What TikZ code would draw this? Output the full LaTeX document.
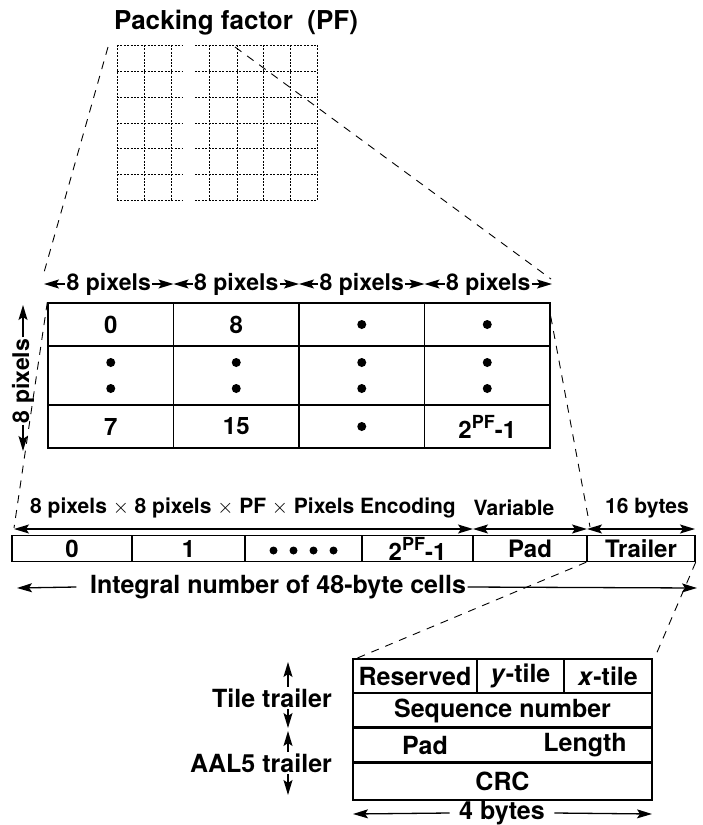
\documentclass[tikz,border=0pt]{standalone}
\usepackage{fontspec}
\setmainfont{TeX Gyre Heros}
\usetikzlibrary{arrows.meta}
\tikzset{
  fs/.style={font=\bfseries\fontsize{#1}{#1}\selectfont},
  lab/.style={inner sep=1.5pt, fs=#1},
  cellbox/.style 2 args={draw, line width=1.4pt, minimum width=#1, minimum height=#2, inner sep=0pt, fs=24},
  proj/.style={line width=0.9pt, dash pattern=on 8pt off 7pt},
  dotgrid/.style={line width=1pt, dash pattern=on 2pt off 1.4pt},
  arr/.style={line width=1.3pt, -{Stealth[length=15pt,width=9pt,inset=3pt]}},
  bul/.style={circle, fill, inner sep=0pt, minimum size=#1},
}
\newcommand{\pfm}{2\raisebox{0.42em}{\fontsize{18}{18}\selectfont PF}-1}
\begin{document}
\begin{tikzpicture}[x=1pt,y=-1pt]
\fill[white] (0,0) rectangle (703,825);
\useasboundingbox (0,0) rectangle (703,825);

% ---------- title and top grid ----------
\node[lab=26] (title) at (236,23) {Packing factor\ \ (PF)};
\foreach \yy in {45,71,97,123,148,174,200} {
  \draw[dotgrid] (117,\yy) -- (183,\yy);
  \draw[dotgrid] (195,\yy) -- (317,\yy);
}
\foreach \xx in {117,144,171,209,237,263,290,317}
  \draw[dotgrid] (\xx,45) -- (\xx,200);
\coordinate (gTL) at (108,47);
\coordinate (gTR) at (235,47);

% ---------- 8 pixels row ----------
\coordinate (h0) at (44,284);
\coordinate (h1) at (173.5,284);
\coordinate (h2) at (299,284);
\coordinate (h3) at (424.5,284);
\coordinate (h4) at (552,284);
\node[lab=23] (p1) at (108.75,284) {8 pixels};
\node[lab=23] (p2) at (236.25,284) {8 pixels};
\node[lab=23] (p3) at (361.75,284) {8 pixels};
\node[lab=23] (p4) at (488.25,284) {8 pixels};
\draw[arr] (p1.west) -- (h0); \draw[arr] (p1.east) -- (h1);
\draw[arr] (p2.west) -- (h1); \draw[arr] (p2.east) -- (h2);
\draw[arr] (p3.west) -- (h2); \draw[arr] (p3.east) -- (h3);
\draw[arr] (p4.west) -- (h3); \draw[arr] (p4.east) -- (h4);
\draw[proj] (gTL) -- (43,276);
\draw[proj] (gTR) -- (551,279);

% ---------- pixel table ----------
\node[cellbox={125.5pt}{43pt}] (t11) at (110.75,324.5) {0};
\node[cellbox={125.5pt}{43pt}] (t12) at (236.25,324.5) {8};
\node[cellbox={125.5pt}{43pt}] (t13) at (361.75,324.5) {};
\node[cellbox={125.5pt}{43pt}] (t14) at (487.25,324.5) {};
\node[cellbox={125.5pt}{59pt}] (t21) at (110.75,375.5) {};
\node[cellbox={125.5pt}{59pt}] (t22) at (236.25,375.5) {};
\node[cellbox={125.5pt}{59pt}] (t23) at (361.75,375.5) {};
\node[cellbox={125.5pt}{59pt}] (t24) at (487.25,375.5) {};
\node[cellbox={125.5pt}{43pt}] (t31) at (110.75,426.5) {7};
\node[cellbox={125.5pt}{43pt}] (t32) at (236.25,426.5) {15};
\node[cellbox={125.5pt}{43pt}] (t33) at (361.75,426.5) {};
\node[cellbox={125.5pt}{43pt}] (t34) at (487.25,426.5) {\pfm};
\node[bul=9pt] at (t13) {};
\node[bul=9pt] at (t14) {};
\node[bul=9pt] at (t33) {};
\foreach \c in {t21,t22,t23,t24} {
  \node[bul=9pt] at ([yshift=13pt]\c.center) {};
  \node[bul=9pt] at ([yshift=-13pt]\c.center) {};
}
% vertical 8 pixels
\coordinate (vt) at (23,305);
\coordinate (vb) at (23,451);
\node[lab=23, rotate=90] (vp) at (23,381) {8 pixels};
\draw[arr] (vp.east) -- (vt);
\draw[arr] (vp.west) -- (vb);

\draw[proj] (t11.north west) -- (14,528);
\draw[proj] ([yshift=-14pt]t14.north east) -- (590,527);

% ---------- bar ----------
\node[lab=21] (encl) at (243,508) {8 pixels $\times$ 8 pixels $\times$ PF $\times$ Pixels Encoding};
\node[lab=21] (varl) at (514,508) {Variable};
\node[lab=21] (bytl) at (647,508) {16 bytes};
\coordinate (a0) at (14,529);
\coordinate (a1) at (473,529);
\coordinate (a2) at (587,529);
\coordinate (a3) at (695,529);
\coordinate (am1) at (240,529);
\coordinate (am2) at (530,529);
\coordinate (am3) at (641,529);
\draw[arr] (am1) -- (a0); \draw[arr] (am1) -- (a1);
\draw[arr] (am2) -- (a1); \draw[arr] (am2) -- (a2);
\draw[arr] (am3) -- (a2); \draw[arr] (am3) -- (a3);

\node[cellbox={120pt}{26pt}] (b1) at (72,548.5) {0};
\node[cellbox={113pt}{26pt}] (b2) at (188.5,548.5) {1};
\node[cellbox={117pt}{26pt}] (b3) at (303.5,548.5) {};
\node[cellbox={111pt}{26pt}] (b4) at (417.5,548.5) {\pfm};
\node[cellbox={114pt}{26pt}] (b5) at (530,548.5) {Pad};
\node[cellbox={108pt}{26pt}] (b6) at (641,548.5) {Trailer};
\foreach \xx in {-30,-10,10,30}
  \node[bul=8pt] at ([xshift=\xx pt, yshift=-2pt]b3.center) {};

\node[lab=25] (intg) at (278,587) {Integral number of 48-byte cells};
\coordinate (i0) at (17,588);
\coordinate (i1) at (697,588);
\draw[arr] ([xshift=-12pt]intg.west) -- (i0);
\draw[arr] (intg.east) -- (i1);

\draw[proj] (b6.south west) -- (355,659);
\draw[proj] (b6.south east) -- (655,657);

% ---------- trailer detail ----------
\node[cellbox={124pt}{34pt}, fs=25] (d11) at (415,676) {Reserved};
\node[cellbox={87pt}{34pt}, fs=25] (d12) at (520.5,676) {\textit{y}-tile};
\node[cellbox={88pt}{34pt}, fs=25] (d13) at (608,676) {\textit{x}-tile};
\node[cellbox={299pt}{35pt}, fs=25] (d2) at (502.5,710.5) {Sequence number};
\node[cellbox={299pt}{35pt}] (d3) at (502.5,745.5) {};
\node[cellbox={299pt}{37pt}, fs=25] (d4) at (502.5,781.5) {CRC};
\draw[line width=2.4pt] (d3.north west) -- (d3.north east);
\draw[line width=2pt] (d4.north west) -- (d4.north east);
\node[lab=25] (padl) at (425,745.5) {Pad};
\node[lab=25] (lenl) at (585,745.5) {Length};

\node[lab=25] (tt) at (272,698) {Tile trailer};
\node[lab=25] (aa) at (261,763) {AAL5 trailer};
\coordinate (ta) at (288,662);
\coordinate (tb) at (288,728);
\coordinate (ua) at (288,731);
\coordinate (ub) at (288,795);
\draw[arr] (tt.north -| ta) -- (ta);
\draw[arr] (tt.south -| ta) -- (tb);
\draw[arr] (aa.north -| ua) -- (ua);
\draw[arr] (aa.south -| ua) -- (ub);

\node[lab=25] (fb) at (502,813) {4 bytes};
\coordinate (fl) at (353,814);
\coordinate (fr) at (652,814);
\draw[arr] ([xshift=-8pt]fb.west) -- (fl);
\draw[arr] ([xshift=8pt]fb.east) -- (fr);
\end{tikzpicture}
\end{document}
